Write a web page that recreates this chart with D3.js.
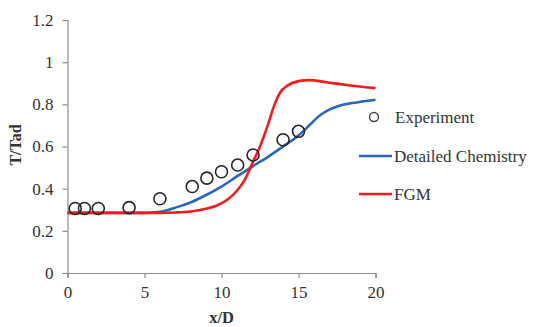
<!DOCTYPE html>
<html>
<head>
<meta charset="utf-8">
<script src="https://cdn.jsdelivr.net/npm/d3@7"></script>
<style>
  html, body { margin: 0; padding: 0; background: #fff; }
  svg text { font-family: "Liberation Serif", "Times New Roman", serif; fill: #333; }
</style>
</head>
<body>
<svg id="chart" width="534" height="327"></svg>
<script>
// Experimental temperature data (x/D, T/Tad)
const expX = [0.5, 1.1, 2, 4, 6, 8.1, 9.05, 10, 11.05, 12.05, 14, 15];
const expY = [0.306, 0.306, 0.306, 0.31, 0.352, 0.41, 0.45, 0.48, 0.512, 0.56, 0.632, 0.672];

// Detailed chemistry simulation
const detX = [0, 5, 6, 7, 8, 9, 10, 11, 12, 13, 14, 15, 15.7, 16.4, 17, 17.7, 18.5, 20];
const detY = [0.285, 0.285, 0.29, 0.31, 0.335, 0.37, 0.41, 0.458, 0.505, 0.55, 0.6, 0.652, 0.7, 0.748, 0.775, 0.795, 0.806, 0.822];

// FGM simulation
const fgmX = [0, 6, 7, 8, 9, 9.7, 10.5, 11, 11.5, 12, 12.5, 13, 13.4, 13.8, 14.3, 15, 15.7, 16.8, 18, 20];
const fgmY = [0.285, 0.285, 0.287, 0.292, 0.305, 0.32, 0.355, 0.39, 0.44, 0.52, 0.6, 0.7, 0.79, 0.855, 0.89, 0.91, 0.915, 0.905, 0.893, 0.877];

const xTicks = [0, 5, 10, 15, 20];
const yTicks = [0, 0.2, 0.4, 0.6, 0.8, 1, 1.2];

const svg = d3.select("#chart");
const plotLeft = 67.5, plotRight = 375.5, plotTop = 20, plotBottom = 273;

const x = d3.scaleLinear().domain([0, 20]).range([plotLeft, plotRight]);
const y = d3.scaleLinear().domain([0, 1.2]).range([plotBottom, plotTop]);

const axisColor = "#8c8c8c";
const fontSize = "17px";

// Y axis
const yAxis = svg.append("g")
  .attr("transform", `translate(${plotLeft},0)`)
  .call(d3.axisLeft(y).tickValues(yTicks).tickSize(5).tickPadding(9)
    .tickFormat(d => String(+d.toFixed(1))));
// X axis
const xAxis = svg.append("g")
  .attr("transform", `translate(0,${plotBottom})`)
  .call(d3.axisBottom(x).tickValues(xTicks).tickSize(5).tickPadding(8));

[yAxis, xAxis].forEach(g => {
  g.select(".domain").attr("stroke", axisColor).attr("stroke-width", 1.2);
  g.selectAll(".tick line").attr("stroke", axisColor).attr("stroke-width", 1.2);
  g.selectAll(".tick text")
    .attr("fill", "#333")
    .style("font-family", '"Liberation Serif", serif')
    .style("font-size", fontSize);
});

// Axis titles
svg.append("text")
  .attr("x", (plotLeft + plotRight) / 2).attr("y", 323)
  .attr("text-anchor", "middle")
  .style("font-size", "16.5px").style("font-weight", "bold")
  .text("x/D");
svg.append("text")
  .attr("transform", `translate(21,145) rotate(-90)`)
  .attr("text-anchor", "middle")
  .style("font-size", "16px").style("font-weight", "bold")
  .text("T/Tad");

const line = d3.line().x(d => x(d[0])).y(d => y(d[1])).curve(d3.curveMonotoneX);

svg.append("path")
  .datum(detX.map((v, i) => [v, detY[i]]))
  .attr("fill", "none").attr("stroke", "#2a66bd").attr("stroke-width", 2.6)
  .attr("d", line);
svg.append("path")
  .datum(fgmX.map((v, i) => [v, fgmY[i]]))
  .attr("fill", "none").attr("stroke", "#f51b1b").attr("stroke-width", 2.6)
  .attr("d", line);

svg.append("g").selectAll("circle")
  .data(expX.map((v, i) => [v, expY[i]]))
  .join("circle")
  .attr("cx", d => x(d[0])).attr("cy", d => y(d[1]))
  .attr("r", 6)
  .attr("fill", "none").attr("stroke", "#262626").attr("stroke-width", 1.6);

// Legend
const legend = svg.append("g");
legend.append("circle").attr("cx", 374).attr("cy", 117).attr("r", 4.5)
  .attr("fill", "none").attr("stroke", "#444").attr("stroke-width", 1.4);
legend.append("text").attr("x", 395).attr("y", 123).style("font-size", fontSize).text("Experiment");
legend.append("line").attr("x1", 359).attr("x2", 392).attr("y1", 156).attr("y2", 156)
  .attr("stroke", "#2a66bd").attr("stroke-width", 2.6);
legend.append("text").attr("x", 394).attr("y", 162).style("font-size", fontSize).text("Detailed Chemistry");
legend.append("line").attr("x1", 359).attr("x2", 392).attr("y1", 194).attr("y2", 194)
  .attr("stroke", "#f51b1b").attr("stroke-width", 2.6);
legend.append("text").attr("x", 394).attr("y", 200).style("font-size", fontSize).text("FGM");
</script>
</body>
</html>
